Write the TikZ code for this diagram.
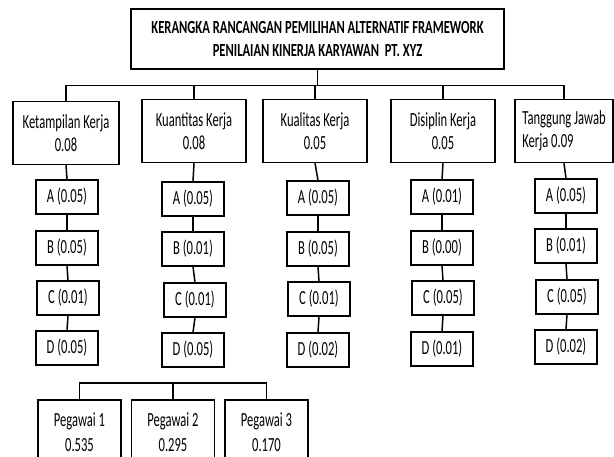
\documentclass[tikz,border=0pt]{standalone}
\usepackage{fontspec}
\setmainfont[FakeStretch=0.63]{Carlito}
\newfontfamily\titlefont[FakeStretch=0.68]{Carlito}
\begin{document}
\begin{tikzpicture}[x=1pt,y=-1pt,
  every node/.style={draw, line width=1.5pt, inner sep=0pt, align=center},
  titlebox/.style={minimum width=373pt, minimum height=60pt, font=\titlefont\bfseries\fontsize{18.5}{22.5}\selectfont},
  catbox/.style={minimum width=104pt, minimum height=63pt, font=\fontsize{20}{23.5}\selectfont},
  subbox/.style={minimum width=62pt, minimum height=34pt, font=\fontsize{20}{21}\selectfont},
  pegbox/.style={minimum width=83pt, minimum height=64pt, font=\fontsize{20}{25}\selectfont},
  link/.style={line width=1.5pt}]
\clip (0,0) rectangle (614,457);
\fill[white] (0,0) rectangle (614,457);
\node[titlebox] (title) at (317.5,39) {KERANGKA RANCANGAN PEMILIHAN ALTERNATIF FRAMEWORK\\PENILAIAN KINERJA KARYAWAN\ \ PT. XYZ};
\node[catbox, minimum width=106pt] (c1) at (66,133) {Ketampilan Kerja\\0.08};
\node[catbox] (c2) at (194,131) {Kuantitas Kerja\\0.08};
\node[catbox] (c3) at (315,131) {Kualitas Kerja\\0.05};
\node[catbox] (c4) at (443,131) {Disiplin Kerja\\0.05};
\node[catbox, minimum width=98pt, align=left] (c5) at (564,131) {Tanggung Jawab\\Kerja 0.09};
\foreach \c in {c1,c2,c3,c4,c5}{
  \draw[link] (title.south) -- ++(0,16) -| (\c.north);
}
% column 1
\node[subbox] (a1) at (67,197) {A (0.05)};
\node[subbox] (b1) at (67,248) {B (0.05)};
\node[subbox] (e1) at (68,298) {C (0.01)};
\node[subbox] (d1) at (67,348) {D (0.05)};
% column 2
\node[subbox] (a2) at (193,199) {A (0.05)};
\node[subbox] (b2) at (193,249) {B (0.01)};
\node[subbox] (e2) at (195,300) {C (0.01)};
\node[subbox] (d2) at (193,350) {D (0.05)};
% column 3
\node[subbox] (a3) at (318,198) {A (0.05)};
\node[subbox] (b3) at (318,249) {B (0.05)};
\node[subbox] (e3) at (319,299) {C (0.01)};
\node[subbox] (d3) at (318,350) {D (0.02)};
% column 4
\node[subbox] (a4) at (442,197) {A (0.01)};
\node[subbox] (b4) at (442,248) {B (0.00)};
\node[subbox] (e4) at (443,298) {C (0.05)};
\node[subbox] (d4) at (442,349) {D (0.01)};
% column 5
\node[subbox] (a5) at (566,196) {A (0.05)};
\node[subbox] (b5) at (566,246) {B (0.01)};
\node[subbox] (e5) at (567,297) {C (0.05)};
\node[subbox] (d5) at (566,347) {D (0.02)};
\foreach \i in {1,...,5}{
  \draw[link] (c\i.south) -- (a\i.north);
  \draw[link] (a\i.south) -- (b\i.north);
  \draw[link] (b\i.south) -- (e\i.north);
  \draw[link] (e\i.south) -- (d\i.north);
}
% pegawai
\node[pegbox] (p1) at (79.5,432) {Pegawai 1\\0.535};
\node[pegbox] (p2) at (173,432) {Pegawai 2\\0.295};
\node[pegbox] (p3) at (266.5,432) {Pegawai 3\\0.170};
\coordinate (pbus) at (173,383);
\draw[link] (pbus) -| (p1.north);
\draw[link] (pbus) -| (p3.north);
\draw[link] (pbus) -- (p2.north);
\end{tikzpicture}
\end{document}
